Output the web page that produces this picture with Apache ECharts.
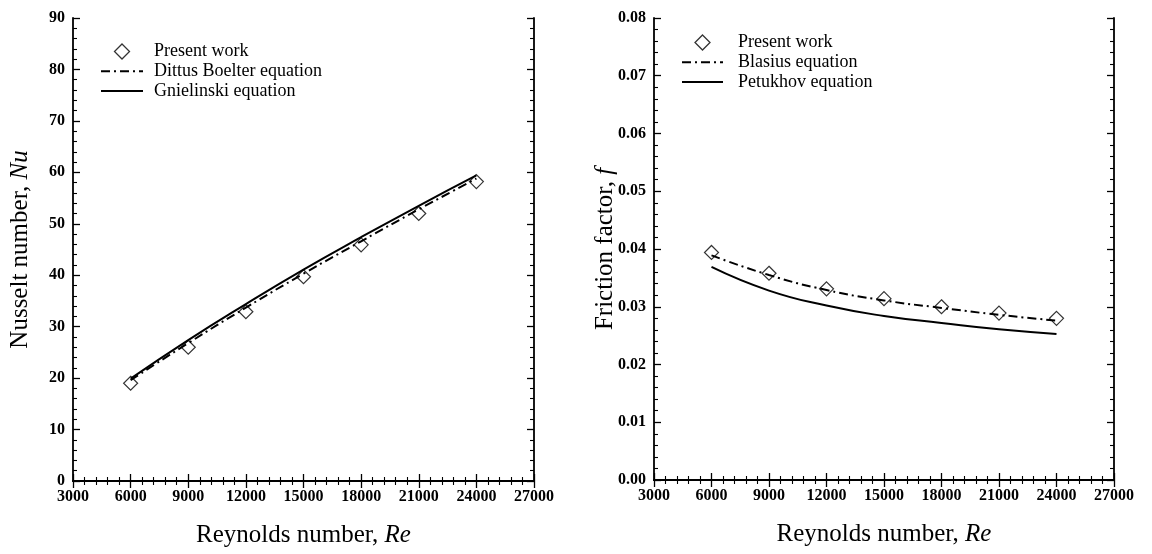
<!DOCTYPE html>
<html>
<head>
<meta charset="utf-8">
<script src="https://cdn.jsdelivr.net/npm/echarts@6/dist/echarts.min.js"></script>
<style>
  html, body { margin: 0; padding: 0; background: #fff; }
  #chart { width: 1152px; height: 554px; }
</style>
</head>
<body>
<div id="chart"></div>
<script>
// Reynolds numbers (shared by both panels)
const reValues = [6000, 9000, 12000, 15000, 18000, 21000, 24000]

// left panel: Nusselt number
const nuPresent = [19.0, 26.0, 32.9, 39.7, 45.9, 52.0, 58.2]
const nuDittus = [19.6, 26.8, 33.7, 40.3, 46.6, 52.8, 58.8]
const nuGnielinski = [19.9, 27.4, 34.4, 41.1, 47.4, 53.5, 59.4]

// right panel: friction factor
const fPresent = [0.0394, 0.0358, 0.0331, 0.0314, 0.0300, 0.0289, 0.0280]
const fBlasius = [0.0389, 0.0355, 0.0329, 0.0311, 0.0298, 0.0286, 0.0276]
const fPetukhov = [0.0369, 0.0328, 0.0302, 0.0284, 0.0272, 0.0261, 0.0253]

const font = 'Liberation Serif'
const pairs = (ys) => reValues.map((x, i) => [x, ys[i]])

const axisLine = { show: true, lineStyle: { color: '#000', width: 1.8 } }
const tick = { show: true, inside: true, length: 7, lineStyle: { color: '#000', width: 1.3 } }
const minor = { show: true, splitNumber: 5, length: 4, lineStyle: { color: '#000', width: 1.1 } }
const tickLabel = { color: '#000', fontFamily: font, fontWeight: 'bold', fontSize: 16 }
const titleRich = {
  a: { fontFamily: font, fontSize: 25, color: '#000' },
  b: { fontFamily: font, fontSize: 25, color: '#000', fontStyle: 'italic' }
}

function xAxes(gridIndex) {
  const base = {
    type: 'value', gridIndex: gridIndex, min: 3000, max: 27000, interval: 3000,
    axisLine: axisLine, axisTick: tick, minorTick: minor, splitLine: { show: false }
  }
  return [
    Object.assign({}, base, {
      position: 'bottom',
      axisLabel: Object.assign({ margin: 8, formatter: (v) => String(v) }, tickLabel),
      name: '{a|Reynolds number, }{b|Re}',
      nameLocation: 'middle', nameGap: 42, nameMoveOverlap: false,
      nameTextStyle: { rich: titleRich }
    }),
    Object.assign({}, base, { position: 'top', axisLabel: { show: false } })
  ]
}

function yAxes(gridIndex, max, interval, fmt, title, gap) {
  const base = {
    type: 'value', gridIndex: gridIndex, min: 0, max: max, interval: interval,
    axisLine: axisLine, axisTick: tick, minorTick: minor, splitLine: { show: false }
  }
  return [
    Object.assign({}, base, {
      position: 'left',
      axisLabel: Object.assign({ margin: 8, formatter: fmt }, tickLabel),
      name: title, nameLocation: 'middle', nameGap: gap, nameMoveOverlap: false,
      nameTextStyle: { rich: titleRich }
    }),
    Object.assign({}, base, { position: 'right', axisLabel: { show: false } })
  ]
}

const diamond = {
  type: 'scatter', symbol: 'diamond', symbolSize: 14, symbolKeepAspect: true, z: 5,
  itemStyle: { color: 'rgba(255,255,255,0)', borderColor: '#000', borderWidth: 1.2 }
}
const dashDot = { color: '#000', width: 2, type: [9, 4, 2, 4] }
const solid = { color: '#000', width: 2, type: 'solid' }

function curve(name, xi, yi, ys, style) {
  return {
    name: name, type: 'line', xAxisIndex: xi, yAxisIndex: yi, data: pairs(ys),
    smooth: true, showSymbol: false, symbol: 'none', lineStyle: style,
    itemStyle: { color: '#000' }
  }
}

// legend entries: diamond marker for measured points, bare line for equations
const diamondIcon = 'path://M7,0 L14,7 L7,14 L0,7 Z'
function legendData(names) {
  return names.map((n, i) => i === 0
    ? { name: n, icon: diamondIcon, itemStyle: { color: 'rgba(255,255,255,0)', borderColor: '#000', borderWidth: 1.3 } }
    : { name: n, itemStyle: { opacity: 0 } })
}
const legendText = { fontFamily: font, fontSize: 18, lineHeight: 19, color: '#000', padding: [0, 0, 0, 6] }

const chart = echarts.init(document.getElementById('chart'))
chart.setOption({
  backgroundColor: '#fff',
  animation: false,
  grid: [
    { left: 73, right: 618, top: 18, bottom: 73, outerBoundsMode: 'none' },
    { left: 654, right: 38, top: 18, bottom: 74, outerBoundsMode: 'none' }
  ],
  legend: [
    {
      data: legendData(['Present work', 'Dittus Boelter equation', 'Gnielinski equation']),
      orient: 'vertical', left: 100, top: 42, padding: 0, itemWidth: 42, itemHeight: 15, itemGap: 0.8,
      textStyle: legendText, selectedMode: false
    },
    {
      data: legendData(['Present work', 'Blasius equation', 'Petukhov equation']),
      orient: 'vertical', left: 681, top: 33, padding: 0, itemWidth: 41, itemHeight: 15, itemGap: 0.8,
      textStyle: Object.assign({}, legendText, { padding: [0, 0, 0, 10] }), selectedMode: false
    }
  ],
  xAxis: xAxes(0).concat(xAxes(1)),
  yAxis: yAxes(0, 90, 10, (v) => String(v), '{a|Nusselt number, }{b|Nu}', 40)
    .concat(yAxes(1, 0.08, 0.01, (v) => v.toFixed(2), '{a|Friction factor, }{b|f}', 36)),
  series: [
    curve('Dittus Boelter equation', 0, 0, nuDittus, dashDot),
    curve('Gnielinski equation', 0, 0, nuGnielinski, solid),
    Object.assign({ name: 'Present work', xAxisIndex: 0, yAxisIndex: 0, data: pairs(nuPresent) }, diamond),
    curve('Blasius equation', 2, 2, fBlasius, dashDot),
    curve('Petukhov equation', 2, 2, fPetukhov, solid),
    Object.assign({ name: 'Present work', xAxisIndex: 2, yAxisIndex: 2, data: pairs(fPresent) }, diamond)
  ]
})
</script>
</body>
</html>
